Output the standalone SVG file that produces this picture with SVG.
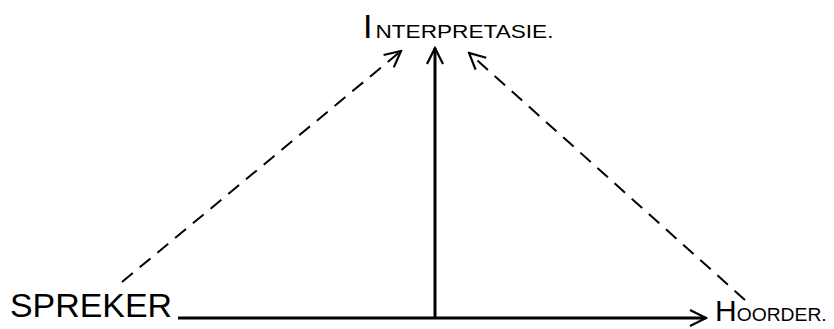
<svg xmlns="http://www.w3.org/2000/svg" width="834" height="329" viewBox="0 0 834 329">
<defs>
<marker id="ah" viewBox="0 0 20 20" refX="18" refY="10" markerWidth="20" markerHeight="20" markerUnits="userSpaceOnUse" orient="auto">
<path d="M2,2 L18,10 L2,18" fill="none" stroke="#000" stroke-width="2.2"/>
</marker>
<style>
.lbl{font-family:"Liberation Sans",Arial,sans-serif;fill:#000;}
.solid{stroke:#000;stroke-width:3;fill:none;}
.dash{stroke:#000;stroke-width:2;fill:none;stroke-dasharray:14 9;}
</style>
</defs>
<rect width="834" height="329" fill="#fff"/>
<g id="connectors">
<line class="solid" x1="178" y1="318" x2="706" y2="318" marker-end="url(#ah)"/>
<line class="solid" x1="435" y1="318" x2="435" y2="48" marker-end="url(#ah)"/>
<line class="dash" x1="122" y1="282" x2="401" y2="51" marker-end="url(#ah)"/>
<line class="dash" x1="745" y1="300" x2="469" y2="53" marker-end="url(#ah)"/>
</g>
<g id="node-interpretasie">
<text class="lbl" x="363" y="38"><tspan font-size="34">I</tspan><tspan font-size="18" dx="3" textLength="178" lengthAdjust="spacingAndGlyphs">NTERPRETASIE.</tspan></text>
</g>
<g id="node-spreker">
<text class="lbl" x="10" y="317" font-size="33" textLength="162" lengthAdjust="spacingAndGlyphs">SPREKER</text>
</g>
<g id="node-hoorder">
<text class="lbl" x="715" y="321"><tspan font-size="30">H</tspan><tspan font-size="18" textLength="90" lengthAdjust="spacingAndGlyphs">OORDER.</tspan></text>
</g>
</svg>
